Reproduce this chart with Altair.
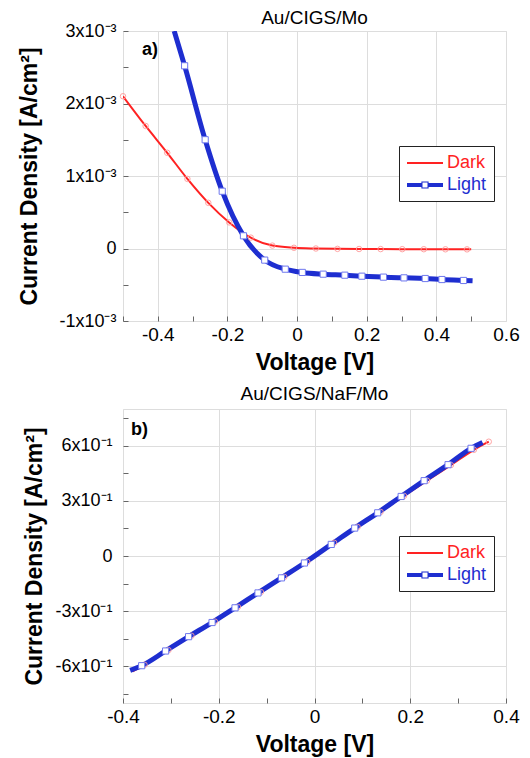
import altair as alt
import pandas as pd

FONT = "Liberation Sans"
RED = "#ff2222"
BLUE = "#1e2ed0"

# ---------- Panel a: Au/CIGS/Mo ----------
a_dark_v = [-0.5, -0.435, -0.373, -0.315, -0.255, -0.195, -0.133, -0.071, -0.009,
            0.054, 0.116, 0.178, 0.240, 0.302, 0.364, 0.426, 0.488, 0.5]
a_dark_j = [2.10e-3, 1.69e-3, 1.32e-3, 0.96e-3, 0.63e-3, 0.36e-3, 0.15e-3, 0.04e-3, 0.01e-3,
            0.0, -0.005e-3, -0.007e-3, -0.008e-3, -0.009e-3, -0.010e-3, -0.011e-3, -0.012e-3, -0.012e-3]
a_dark_mark = [1, 1, 1, 1, 1, 1, 1, 1, 1, 1, 1, 1, 1, 1, 1, 1, 1, 0]

a_light_v = [-0.353, -0.323, -0.264, -0.215, -0.154, -0.093, -0.034, 0.015, 0.075,
             0.137, 0.186, 0.248, 0.307, 0.368, 0.416, 0.478, 0.504]
a_light_j = [3.0e-3, 2.52e-3, 1.50e-3, 0.79e-3, 0.175e-3, -0.16e-3, -0.285e-3, -0.33e-3, -0.354e-3,
             -0.368e-3, -0.382e-3, -0.395e-3, -0.405e-3, -0.414e-3, -0.428e-3, -0.441e-3, -0.446e-3]
a_light_mark = [0, 1, 1, 1, 1, 1, 1, 1, 1, 1, 1, 1, 1, 1, 1, 1, 0]

a_x_ticks = [-0.4, -0.2, 0.0, 0.2, 0.4, 0.6]
a_x_labels = ["-0.4", "-0.2", "0", "0.2", "0.4", "0.6"]
a_x_minor = [-0.5, -0.4, -0.3, -0.2, -0.1, 0.0, 0.1, 0.2, 0.3, 0.4, 0.5]
a_y_ticks = [-1e-3, 0.0, 1e-3, 2e-3, 3e-3]
a_y_labels = ["-1x10⁻³", "0", "1x10⁻³", "2x10⁻³", "3x10⁻³"]
a_y_minor = [-1e-3, -0.5e-3, 0.0, 0.5e-3, 1e-3, 1.5e-3, 2e-3, 2.5e-3, 3e-3]

# ---------- Panel b: Au/CIGS/NaF/Mo ----------
b_dark_v = [-0.380, -0.355, -0.305, -0.257, -0.208, -0.160, -0.112, -0.063, -0.015,
            0.041, 0.090, 0.138, 0.187, 0.235, 0.285, 0.333, 0.364]
b_dark_j = [-0.628, -0.592, -0.512, -0.434, -0.357, -0.277, -0.196, -0.114, -0.032,
            0.072, 0.158, 0.240, 0.327, 0.410, 0.495, 0.578, 0.622]
b_dark_mark = [0, 1, 1, 1, 1, 1, 1, 1, 1, 1, 1, 1, 1, 1, 1, 1, 1]

b_light_v = [-0.385, -0.361, -0.311, -0.263, -0.214, -0.166, -0.118, -0.069, -0.021,
             0.035, 0.084, 0.132, 0.181, 0.229, 0.279, 0.327, 0.351]
b_light_j = [-0.622, -0.597, -0.517, -0.439, -0.362, -0.282, -0.201, -0.119, -0.038,
             0.063, 0.152, 0.235, 0.324, 0.410, 0.497, 0.586, 0.618]
b_light_mark = [0, 1, 1, 1, 1, 1, 1, 1, 1, 1, 1, 1, 1, 1, 1, 1, 0]

b_x_ticks = [-0.4, -0.2, 0.0, 0.2, 0.4]
b_x_labels = ["-0.4", "-0.2", "0", "0.2", "0.4"]
b_x_minor = [-0.4, -0.3, -0.2, -0.1, 0.0, 0.1, 0.2, 0.3, 0.4]
b_y_ticks = [-0.6, -0.3, 0.0, 0.3, 0.6]
b_y_labels = ["-6x10⁻¹", "-3x10⁻¹", "0", "3x10⁻¹", "6x10⁻¹"]
b_y_minor = [-0.75, -0.6, -0.45, -0.3, -0.15, 0.0, 0.15, 0.3, 0.45, 0.6, 0.75]

series = ["Dark", "Light"]


def make_df(dv, dj, dm, lv, lj, lm):
    return pd.DataFrame({
        "V": dv + lv,
        "J": dj + lj,
        "M": dm + lm,
        "S": ["Dark"] * len(dv) + ["Light"] * len(lv),
    })


def label_expr(vals, labels):
    expr = "''"
    for v, l in zip(vals, labels):
        expr = f"abs(datum.value - ({v})) < 1e-9 ? '{l}' : ({expr})"
    return expr


DARK_PATH = "M-0.9,-0.1H2.7V0.1H-0.9Z"
LIGHT_PATH = ("M-0.9,-0.2H0.54V0.2H-0.9Z M1.26,-0.2H2.7V0.2H1.26Z "
              "M0.54,-0.36H1.26V0.36H0.54Z M0.65,-0.25V0.25H1.15V-0.25Z")
COLOR_EXPR = f"datum.value === 'Dark' ? '{RED}' : '{BLUE}'"
SHAPE_EXPR = f"datum.value === 'Dark' ? '{DARK_PATH}' : '{LIGHT_PATH}'"


def panel(df, title, tag, xdom, xt, xl, xm, ydom, yt, yl, ym, w, h, lx, ly,
          ylabpad, yext, tagx, tagy, toff):
    xs = alt.Scale(domain=xdom, nice=False, zero=False)
    ys = alt.Scale(domain=ydom, nice=False, zero=False)
    main_x = alt.Axis(values=xt, labelExpr=label_expr(xt, xl), title="Voltage [V]",
                      grid=True, gridColor="#dddddd", ticks=False, domain=False,
                      labelFontSize=19, labelFont=FONT, labelColor="black", labelPadding=4,
                      labelFlush=False, titleFontSize=23, titleFont=FONT, titleFontWeight="bold",
                      titleColor="black", titlePadding=7)
    main_y = alt.Axis(values=yt, labelExpr=label_expr(yt, yl), title="Current Density [A/cm²]",
                      grid=True, gridColor="#dddddd", ticks=False, domain=False,
                      labelFontSize=18, labelFont=FONT, labelColor="black", labelPadding=ylabpad,
                      labelFlush=False, titleFontSize=23, titleFont=FONT, titleFontWeight="bold",
                      titleColor="black", titlePadding=9, minExtent=yext, maxExtent=yext)
    minor_x = alt.Axis(values=xm, orient="bottom", labels=False, domain=False, grid=False,
                       ticks=True, tickSize=5, offset=-5, tickColor="#666666", title=None)
    minor_y = alt.Axis(values=ym, orient="left", labels=False, domain=False, grid=False,
                       ticks=True, tickSize=5, offset=-5, tickColor="#666666", title=None)

    leg = alt.Legend(
        title=None, orient="none", legendX=lx, legendY=ly,
        strokeColor="#222222", fillColor="white", padding=7,
        labelFontSize=18, labelFont=FONT, symbolSize=400, labelOffset=21,
        rowPadding=3,
        labelColor=alt.ExprRef(expr=COLOR_EXPR),
        symbolType=alt.ExprRef(expr=SHAPE_EXPR),
        symbolFillColor=alt.ExprRef(expr=COLOR_EXPR),
        symbolStrokeColor="transparent",
        symbolStrokeWidth=0,
        symbolOpacity=1,
    )

    base = alt.Chart(df)
    lines = base.mark_line(interpolate="monotone", clip=True).encode(
        x=alt.X("V:Q", scale=xs, axis=main_x),
        y=alt.Y("J:Q", scale=ys, axis=main_y),
        color=alt.Color("S:N", scale=alt.Scale(domain=series, range=[RED, BLUE]), legend=leg),
        strokeWidth=alt.condition("datum.S === 'Dark'", alt.value(2), alt.value(5)),
    )
    dark_pts = base.transform_filter("datum.S === 'Dark' && datum.M === 1").mark_point(
        shape="circle", size=30, filled=False, stroke="#ff9c9c", strokeWidth=1, opacity=0.9
    ).encode(
        x=alt.X("V:Q", scale=xs, axis=minor_x),
        y=alt.Y("J:Q", scale=ys, axis=minor_y),
    )
    light_pts = base.transform_filter("datum.S === 'Light' && datum.M === 1").mark_point(
        shape="square", size=38, filled=True, fill="white", stroke="#6f78ee", strokeWidth=1, opacity=1
    ).encode(
        x=alt.X("V:Q", scale=xs, axis=None),
        y=alt.Y("J:Q", scale=ys, axis=None),
    )
    tag_txt = alt.Chart(pd.DataFrame({"t": [tag]})).mark_text(
        align="left", baseline="middle", fontSize=18, fontWeight="bold", font=FONT, color="black"
    ).encode(text="t:N", x=alt.value(tagx), y=alt.value(tagy))

    return alt.layer(lines, dark_pts, light_pts, tag_txt).resolve_axis(
        x="independent", y="independent"
    ).properties(
        width=w, height=h,
        title=alt.Title(title, fontSize=19, fontWeight="normal", font=FONT, color="black",
                        anchor="middle", offset=toff),
    )


df_a = make_df(a_dark_v, a_dark_j, a_dark_mark, a_light_v, a_light_j, a_light_mark)
df_b = make_df(b_dark_v, b_dark_j, b_dark_mark, b_light_v, b_light_j, b_light_mark)

pa = panel(df_a, "Au/CIGS/Mo", "a)", [-0.5, 0.6], a_x_ticks, a_x_labels, a_x_minor,
           [-1e-3, 3e-3], a_y_ticks, a_y_labels, a_y_minor, 383, 290, 276, 115,
           7, 73, 19, 19, -6)
pb = panel(df_b, "Au/CIGS/NaF/Mo", "b)", [-0.4, 0.4], b_x_ticks, b_x_labels, b_x_minor,
           [-0.8, 0.8], b_y_ticks, b_y_labels, b_y_minor, 383, 294, 276, 127,
           11, 68, 8, 21, 5)

chart = alt.concat(pa, pb, columns=1, spacing=9, align="none").resolve_scale(
    color="independent"
).resolve_legend(color="independent").configure_view(
    stroke="#888888", strokeWidth=1.3
).configure(background="white", padding={"left": 9, "top": 0, "right": 0, "bottom": 0})

chart.save("out.html", embed_options={"renderer": "svg", "actions": False})
